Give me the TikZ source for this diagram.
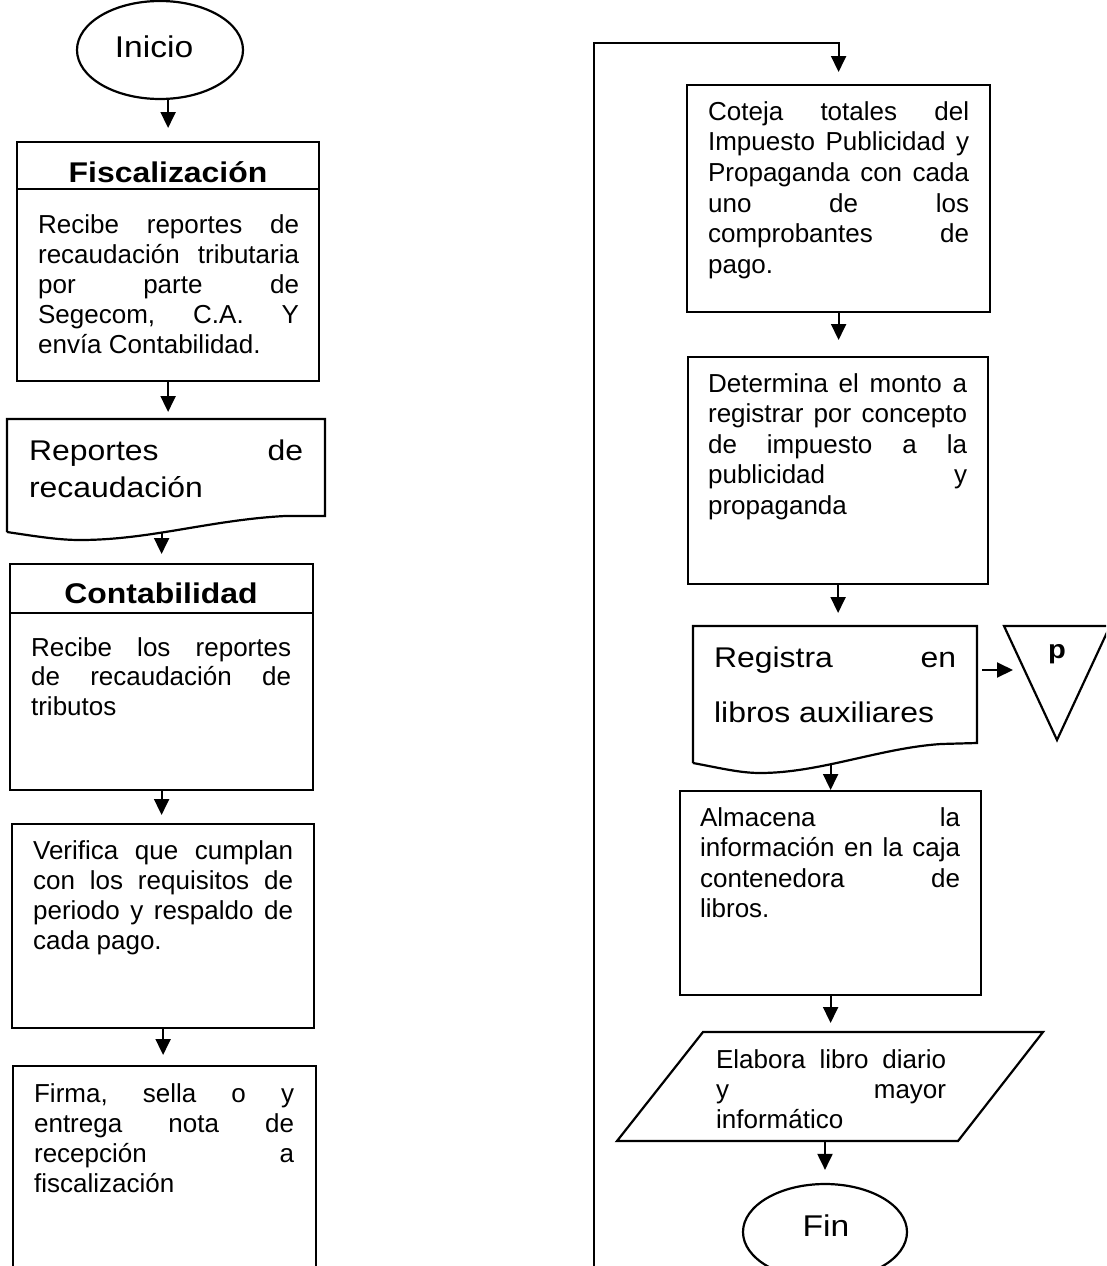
\documentclass[tikz,border=0pt]{standalone}
\usepackage{fontspec}
\setmainfont{Liberation Sans}
\newfontfamily\bigfont[FakeStretch=1.12]{Liberation Sans}
\usetikzlibrary{arrows.meta,shapes.geometric}
\newcommand\J[2]{\makebox[#1][s]{#2}}
\newcommand\fs{\rule{0pt}{25pt}}
\newcommand\fb{\rule{0pt}{28pt}}
\frenchspacing
\begin{document}
\begin{tikzpicture}[x=1pt,y=-1pt,line width=2.2pt,
  box/.style={draw,rectangle,inner sep=0pt,anchor=north west},
  ghost/.style={rectangle,inner sep=0pt,outer sep=0pt,anchor=north west},
  oval/.style={draw,ellipse,inner sep=0pt},
  body/.style={anchor=north west,inner sep=0pt,align=left,font=\fontsize{26}{30}\selectfont},
  big/.style={inner sep=0pt,font=\bigfont\fontsize{28.5}{30}\selectfont},
  head/.style={anchor=base,inner sep=0pt,font=\bigfont\fontsize{28.5}{30}\selectfont\bfseries},
  arr/.style={-{Triangle[width=15pt,length=16pt]},line width=2pt},
  sep/.style={line width=1.7pt}]
\useasboundingbox (0,0) rectangle (1106,1266);
\clip (0,0) rectangle (1106,1266);

% ---------------- left column ----------------
\node[oval,minimum width=166pt,minimum height=98pt] (inicio) at (160,50) {};
\node[big,anchor=base,font=\bigfont\fontsize{30}{32}\selectfont] (inicio-t) at (154,57) {Inicio};

\node[box,minimum width=302pt,minimum height=239pt] (fisc) at (16,141) {};
\draw[sep] (16,189) -- (318,189);
\node[head] (fisc-h) at (168,182) {Fiscalización};
\node[body] (fisc-t) at (37,207) {\fs\J{261pt}{Recibe reportes de}\\
  \J{261pt}{recaudación tributaria}\\
  \J{261pt}{por parte de}\\
  \J{261pt}{Segecom, C.A. Y}\\
  envía Contabilidad.};

\node[ghost,minimum width=318pt,minimum height=113pt] (rep) at (7,419) {};
\draw (7,532) -- (7,419) -- (325,419) -- (325,516) -- (285,516)
  .. controls (210,520) and (150,540) .. (80,540)
  .. controls (60,540) and (40,537) .. (7,532);
\node[big,anchor=north west,align=left,font=\bigfont\fontsize{28.5}{37}\selectfont] (rep-t) at (28,431)
  {\fb\J{274pt}{Reportes de}\\ recaudación};

\node[box,minimum width=303pt,minimum height=226pt] (conta) at (9,563) {};
\draw[sep] (9,613) -- (312,613);
\node[head] (conta-h) at (161,603) {Contabilidad};
\node[body,font=\fontsize{26}{29.5}\selectfont] (conta-t) at (30,630) {\fs\J{260pt}{Recibe los reportes}\\
  \J{260pt}{de recaudación de}\\
  tributos};

\node[box,minimum width=302pt,minimum height=204pt] (verif) at (11,823) {};
\node[body] (verif-t) at (32,833) {\fs\J{260pt}{Verifica que cumplan}\\
  \J{260pt}{con los requisitos de}\\
  \J{260pt}{periodo y respaldo de}\\
  cada pago.};

\node[box,minimum width=303pt,minimum height=260pt] (firma) at (12,1065) {};
\node[body] (firma-t) at (33,1076) {\fs\J{260pt}{Firma, sella o y}\\
  \J{260pt}{entrega nota de}\\
  \J{260pt}{recepción a}\\
  fiscalización};

% ---------------- right column ----------------
\node[box,minimum width=303pt,minimum height=227pt] (coteja) at (686,84) {};
\node[body,font=\fontsize{26}{30.7}\selectfont] (coteja-t) at (707,94) {\fs\J{261pt}{Coteja totales del}\\
  \J{261pt}{Impuesto Publicidad y}\\
  \J{261pt}{Propaganda con cada}\\
  \J{261pt}{uno de los}\\
  \J{261pt}{comprobantes de}\\
  pago.};

\node[box,minimum width=300pt,minimum height=227pt] (determ) at (687,356) {};
\node[body,font=\fontsize{26}{30.5}\selectfont] (determ-t) at (707,366) {\fs\J{259pt}{Determina el monto a}\\
  \J{259pt}{registrar por concepto}\\
  \J{259pt}{de impuesto a la}\\
  \J{259pt}{publicidad y}\\
  propaganda};

\node[ghost,minimum width=284pt,minimum height=137pt] (reg) at (693,626) {};
\draw (693,763) -- (693,626) -- (977,626) -- (977,743) -- (941,744)
  .. controls (880,748) and (820,773) .. (760,773)
  .. controls (740,773) and (720,768) .. (693,763);
\node[big,anchor=north west,align=left,font=\bigfont\fontsize{28.5}{55}\selectfont] (reg-t) at (713,638)
  {\fb\J{242pt}{Registra en}\\ libros auxiliares};

\draw (1004,626) -- (1110,626) -- (1057,740) -- cycle;
\node[anchor=base,inner sep=0pt,font=\bigfont\fontsize{26}{28}\selectfont\bfseries] (ptri) at (1057,658) {p};
\coordinate (p-in) at (1013,670);

\node[box,minimum width=301pt,minimum height=204pt] (alm) at (679,790) {};
\node[body,font=\fontsize{26}{30.5}\selectfont] (alm-t) at (699,800) {\fs\J{260pt}{Almacena la}\\
  \J{260pt}{información en la caja}\\
  \J{260pt}{contenedora de}\\
  libros.};

\node[ghost,minimum width=426pt,minimum height=109pt] (elab) at (617,1032) {};
\draw (703,1032) -- (1043,1032) -- (958,1141) -- (617,1141) -- cycle;
\node[body] (elab-t) at (715,1042) {\fs\J{230pt}{Elabora libro diario}\\
  \J{230pt}{y mayor}\\
  informático};

\node[oval,minimum width=164pt,minimum height=96pt] (fin) at (825,1232) {};
\node[big,anchor=base,font=\bigfont\fontsize{30}{32}\selectfont] (fin-t) at (826,1236) {Fin};

% ---------------- connectors ----------------
\draw[arr,shorten >=13pt] (inicio.south -| fisc.north) -- (fisc.north);
\draw[arr,shorten >=7pt] (fisc.south) -- (fisc.south |- rep.north);
\draw[arr,shorten >=9pt] (rep.south -| conta.north) -- (conta.north);
\draw[arr,shorten >=8pt] (conta.south) -- (conta.south |- verif.north);
\draw[arr,shorten >=10pt] (verif.south) -- (verif.south |- firma.north);

\coordinate (loop-start) at (594,1300);
\coordinate (loop-top) at (594,43);
\draw[arr,shorten >=12pt] (loop-start) -- (loop-top) -| (coteja.north);
\draw[arr,shorten >=16pt] (coteja.south) -- (coteja.south |- determ.north);
\draw[arr,shorten >=13pt] (determ.south) -- (determ.south |- reg.north);
\draw[arr,shorten <=5pt] (reg.east |- p-in) -- (p-in);
\draw[arr] (reg.south -| alm.north) -- (alm.north);
\draw[arr,shorten >=9pt] (alm.south) -- (alm.south |- elab.north);
\draw[arr,shorten >=13pt] (elab.south -| fin.north) -- (fin.north);
\end{tikzpicture}
\end{document}
